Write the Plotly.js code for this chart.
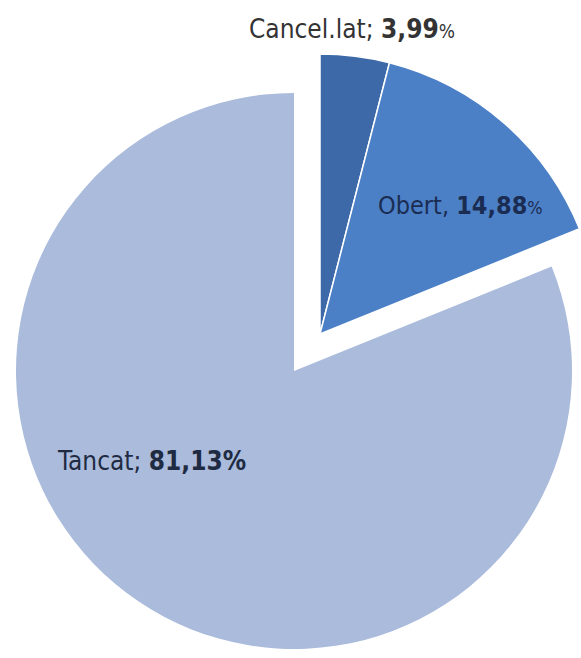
<!DOCTYPE html>
<html>
<head>
<meta charset="utf-8">
<script src="https://cdn.plot.ly/plotly-3.0.1.min.js"></script>
<style>
html, body { margin: 0; padding: 0; overflow: hidden; background: #ffffff; width: 581px; height: 658px; }
#chart { width: 640px; height: 658px; }
</style>
</head>
<body>
<div id="chart"></div>
<script>
// Data
var categories = ["Cancel.lat", "Obert", "Tancat"];
var shares = [3.99, 14.88, 81.13];
var shareLabels = ["3,99", "14,88", "81,13"];
var pulledGroup = [true, true, false];

var colors = {"Cancel.lat": "#3d69a8", "Obert": "#4b80c7", "Tancat": "#aabbdc"};

var W = 640, H = 658;
function dom(cx, cy, r) {
  return {x: [(cx - r) / W, (cx + r) / W], y: [(H - cy - r) / H, (H - cy + r) / H]};
}

var base = {
  type: "pie",
  labels: categories,
  values: shares,
  sort: false,
  direction: "clockwise",
  rotation: 0,
  textinfo: "none",
  hoverinfo: "skip",
  showlegend: false
};

// Main body (non-pulled slices)
var traceMain = Object.assign({}, base, {
  domain: dom(294, 371, 278),
  marker: {
    colors: categories.map(function (c, i) { return pulledGroup[i] ? "rgba(0,0,0,0)" : colors[c]; }),
    line: {width: 0, color: "#ffffff"}
  }
});

// Exploded group (pulled slices moved together)
var traceGroup = Object.assign({}, base, {
  domain: dom(320, 334, 280),
  marker: {
    colors: categories.map(function (c, i) { return pulledGroup[i] ? colors[c] : "rgba(0,0,0,0)"; }),
    line: {width: categories.map(function (c, i) { return pulledGroup[i] ? 1.5 : 0; }), color: "#ffffff"}
  }
});

var fam = "DejaVu Sans Condensed, Liberation Sans Narrow, sans-serif";
var annotations = [
  {text: categories[0] + "; <b>" + shareLabels[0] + "</b><span style='font-size:19px'>%</span>",
   x: 352 / W, y: 1 - 29 / H, font: {size: 26, color: "#333333", family: fam}},
  {text: categories[1] + ", <b>" + shareLabels[1] + "</b><span style='font-size:18px'>%</span>",
   x: 460 / W, y: 1 - 206 / H, font: {size: 25, color: "#1b2c52", family: fam}},
  {text: categories[2] + "; <b>" + shareLabels[2] + "%</b>",
   x: 151 / W, y: 1 - 461 / H, font: {size: 26, color: "#1f2b42", family: fam}}
].map(function (a) {
  return Object.assign({xref: "paper", yref: "paper", xanchor: "center", yanchor: "middle", showarrow: false}, a);
});

var layout = {
  width: W,
  height: H,
  margin: {l: 0, r: 0, t: 0, b: 0},
  paper_bgcolor: "#ffffff",
  plot_bgcolor: "#ffffff",
  showlegend: false,
  annotations: annotations
};

Plotly.newPlot("chart", [traceMain, traceGroup], layout, {displayModeBar: false, staticPlot: true});
</script>
</body>
</html>
